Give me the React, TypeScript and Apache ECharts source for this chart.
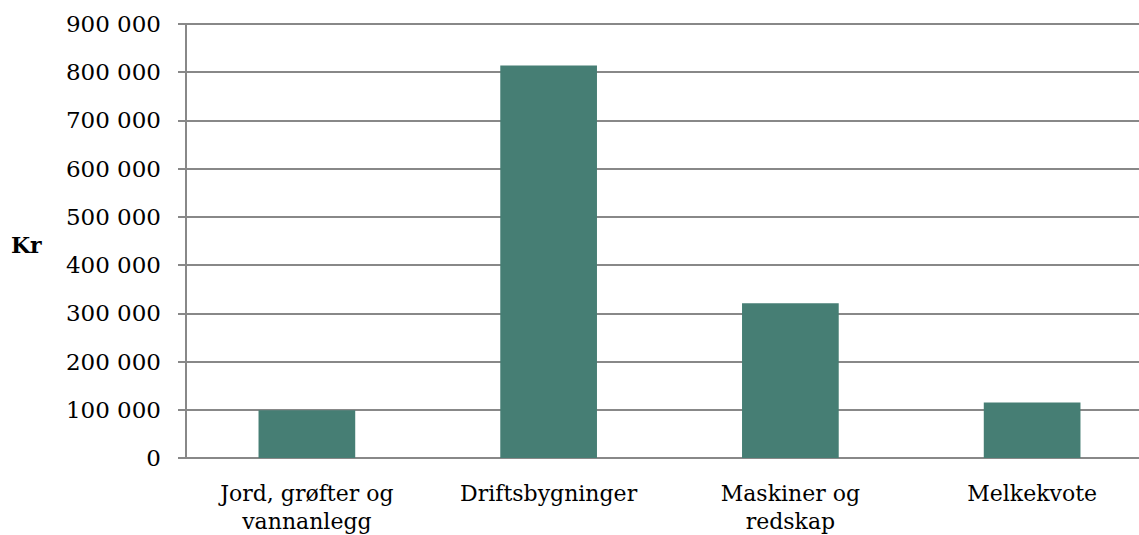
import React, { useEffect, useRef } from "react";
import * as echarts from "echarts";

const categories = ["Jord, grøfter og\nvannanlegg", "Driftsbygninger", "Maskiner og\nredskap", "Melkekvote"];
const values = [99000, 814000, 321000, 115000];
const yTicks = { min: 0, max: 900000, interval: 100000 };
const yAxisTitle = "Kr";

const FONT = "'DejaVu Serif', 'Liberation Serif', serif";

export default function App() {
  const ref = useRef<HTMLDivElement>(null);
  useEffect(() => {
    document.body.style.margin = "0";
    document.body.style.overflow = "hidden";
    const chart = echarts.init(ref.current!, null, { renderer: "svg" });
    chart.setOption({
      animation: false,
      backgroundColor: "#ffffff",
      grid: { left: 186, right: 7, top: 24, bottom: 75, containLabel: false },
      xAxis: {
        type: "category",
        data: categories,
        axisLine: { show: true, lineStyle: { color: "#888888", width: 2 } },
        axisTick: { show: false },
        axisLabel: {
          color: "#000",
          fontFamily: FONT,
          fontSize: 22,
          lineHeight: 28,
          margin: 21,
          interval: 0,
        },
      },
      yAxis: {
        type: "value",
        min: yTicks.min,
        max: yTicks.max,
        interval: yTicks.interval,
        axisLine: { show: true, lineStyle: { color: "#888888", width: 2 } },
        axisTick: { show: true, length: 8, lineStyle: { color: "#888888", width: 2 } },
        splitLine: { show: true, lineStyle: { color: "#888888", width: 2 } },
        axisLabel: {
          color: "#000",
          fontFamily: FONT,
          fontSize: 23,
          margin: 25,
          formatter: (v: number) => {
            const s = String(Math.round(v));
            return s.replace(/\B(?=(\d{3})+(?!\d))/g, " ");
          },
        },
      },
      series: [
        {
          type: "bar",
          data: values,
          barWidth: "40%",
          itemStyle: { color: "#467e74" },
        },
      ],
      graphic: [
        {
          type: "text",
          left: 11,
          top: 234,
          style: {
            text: yAxisTitle,
            font: `bold 22px ${FONT}`,
            fill: "#000",
          },
        },
      ],
    });
    return () => chart.dispose();
  }, []);
  return (
    <div style={{ width: 1139, height: 535, overflow: "hidden" }}>
      <div ref={ref} style={{ width: 1160, height: 535 }} />
    </div>
  );
}
